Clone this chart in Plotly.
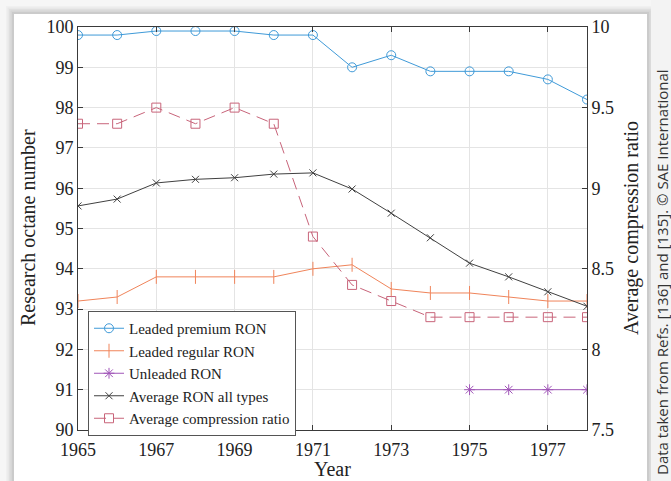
import plotly.graph_objects as go

# Model years
years = list(range(1965, 1979))

# Research octane numbers by fuel grade
leaded_premium = [99.8, 99.8, 99.9, 99.9, 99.9, 99.8, 99.8, 99.0, 99.3, 98.9, 98.9, 98.9, 98.7, 98.2]
leaded_regular = [93.2, 93.3, 93.8, 93.8, 93.8, 93.8, 94.0, 94.1, 93.5, 93.4, 93.4, 93.3, 93.2, 93.2]
unleaded_years = [1975, 1976, 1977, 1978]
unleaded = [91.0, 91.0, 91.0, 91.0]
average_ron = [95.56, 95.73, 96.13, 96.22, 96.26, 96.35, 96.38, 95.98, 95.38, 94.77, 94.14, 93.80, 93.43, 93.07]

# Average engine compression ratio (right axis)
compression_ratio = [9.4, 9.4, 9.5, 9.4, 9.5, 9.4, 8.7, 8.4, 8.3, 8.2, 8.2, 8.2, 8.2, 8.2]

x_ticks = [1965, 1967, 1969, 1971, 1973, 1975, 1977]
y_ticks = list(range(90, 101))
y2_ticks = [7.5, 8, 8.5, 9, 9.5, 10]

SERIF = "Liberation Serif"
AXIS = "#3a3a3a"
GRID = "#e4e4e4"

fig = go.Figure()

fig.add_trace(go.Scatter(
    x=years, y=leaded_premium, name="Leaded premium RON", mode="lines+markers",
    line=dict(color="#3f9ad8", width=1),
    marker=dict(symbol="circle-open", size=9, color="#3f9ad8", line=dict(width=1)),
))
fig.add_trace(go.Scatter(
    x=years, y=leaded_regular, name="Leaded regular RON", mode="lines+markers",
    line=dict(color="#f0845a", width=1),
    marker=dict(symbol="line-ns-open", size=10, color="#f0845a", line=dict(width=1, color="#f0845a")),
))
fig.add_trace(go.Scatter(
    x=unleaded_years, y=unleaded, name="Unleaded RON", mode="lines+markers",
    line=dict(color="#a055b8", width=1),
    marker=dict(symbol="asterisk-open", size=9, color="#a055b8", line=dict(width=1, color="#a055b8")),
))
fig.add_trace(go.Scatter(
    x=years, y=average_ron, name="Average RON all types", mode="lines+markers",
    line=dict(color="#404040", width=1),
    marker=dict(symbol="x-thin-open", size=7, color="#404040", line=dict(width=1, color="#404040")),
))
fig.add_trace(go.Scatter(
    x=years, y=compression_ratio, name="Average compression ratio", mode="lines+markers",
    yaxis="y2",
    line=dict(color="#c8647a", width=1, dash="12px,7px"),
    marker=dict(symbol="square-open", size=9, color="#c8647a", line=dict(width=1)),
))

L, R, T, B = 78, 587, 27, 430
W, H = R - L, B - T


def px(x):
    return (x - L) / W


def py(y):
    return (B - y) / H


shapes = []
# soft shadow around the white card
for i, op in enumerate([0.025, 0.03, 0.035, 0.04, 0.05]):
    d = 8 - i * 1.5
    shapes.append(dict(type="rect", xref="paper", yref="paper",
                       x0=px(14 - d), x1=px(647 + d), y0=py(481 + 20), y1=py(14 - d),
                       fillcolor=f"rgba(0,0,0,{op})", line=dict(width=0), layer="below"))
shapes.append(dict(type="rect", xref="paper", yref="paper",
                   x0=px(14), x1=px(647), y0=py(481 + 20), y1=py(14),
                   fillcolor="white", line=dict(width=0), layer="below"))
# side strip holding the source note
shapes.append(dict(type="rect", xref="paper", yref="paper",
                   x0=px(651), x1=px(672), y0=py(482), y1=py(-2),
                   fillcolor="#f3f3f3", line=dict(width=0), layer="below"))


def label(text, x, y, size, family=SERIF, angle=0, color="#222"):
    return dict(text=text, x=px(x), y=py(y), xref="paper", yref="paper",
                xanchor="center", yanchor="middle", textangle=angle,
                showarrow=False, font=dict(family=family, size=size, color=color))


annotations = [
    label("Research octane number", 28, 228, 20, angle=-90),
    label("Average compression ratio", 631, 228, 20, angle=-90),
    label("Year", 332, 469, 20),
    label("Data taken from Refs. [136] and [135]. © SAE International", 662, 272, 15,
          family="Open Sans", angle=-90, color="#333"),
]

fig.update_layout(
    width=671, height=481,
    margin=dict(l=L, r=671 - R, t=T, b=481 - B, pad=0),
    paper_bgcolor="#f6f6f6",
    plot_bgcolor="rgba(0,0,0,0)",
    font=dict(family=SERIF, size=18, color="#222"),
    showlegend=True,
    legend=dict(
        x=px(88), y=py(311), xanchor="left", yanchor="top",
        bgcolor="white", bordercolor="#555", borderwidth=1,
        font=dict(family=SERIF, size=15, color="#222"),
        itemwidth=30, tracegroupgap=0,
    ),
    xaxis=dict(
        range=[1965, 1978], tickvals=x_ticks, ticktext=[str(v) for v in x_ticks],
        showgrid=True, gridcolor=GRID, gridwidth=1, zeroline=False,
        showline=True, linecolor=AXIS, linewidth=1, mirror="ticks",
        ticks="inside", ticklen=5, tickcolor=AXIS, ticklabelstandoff=3,
        tickfont=dict(family=SERIF, size=18, color="#222"),
    ),
    yaxis=dict(
        range=[90, 100], tickvals=y_ticks,
        showgrid=True, gridcolor=GRID, gridwidth=1, zeroline=False,
        showline=True, linecolor=AXIS, linewidth=1, mirror=True,
        ticks="inside", ticklen=5, tickcolor=AXIS,
        tickfont=dict(family=SERIF, size=18, color="#222"),
    ),
    yaxis2=dict(
        range=[7.5, 10], tickvals=y2_ticks, ticktext=["7.5", "8", "8.5", "9", "9.5", "10"],
        overlaying="y", side="right", showgrid=False, zeroline=False,
        showline=True, linecolor=AXIS, linewidth=1,
        ticks="inside", ticklen=5, tickcolor=AXIS,
        tickfont=dict(family=SERIF, size=18, color="#222"),
    ),
    shapes=shapes,
    annotations=annotations,
)

fig.write_html("out.html")
